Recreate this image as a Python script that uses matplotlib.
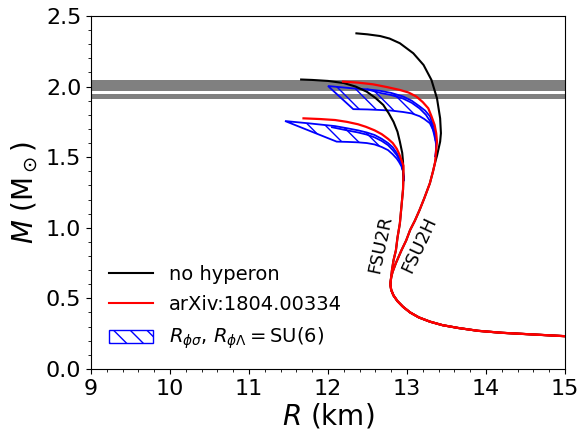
import matplotlib
matplotlib.use('Agg')
import matplotlib.pyplot as plt
from matplotlib.patches import Patch
from matplotlib.ticker import MultipleLocator

# low-mass tail shared by all sequences (R in km, M in Msun)
tail_R = [15.0, 14.6, 14.2, 13.9, 13.65, 13.45, 13.29, 13.15, 13.04, 12.95, 12.88, 12.83, 12.80, 12.79]
tail_M = [0.232, 0.244, 0.256, 0.27, 0.29, 0.31, 0.335, 0.365, 0.40, 0.44, 0.48, 0.52, 0.56, 0.60]

# FSU2R
r_low_R = [12.80, 12.81, 12.83, 12.86, 12.88, 12.91, 12.93, 12.95, 12.955]
r_low_M = [0.65, 0.70, 0.77, 0.84, 0.93, 1.03, 1.15, 1.27, 1.36]
r_nohyp_R = [12.95, 12.94, 12.91, 12.88, 12.83, 12.77, 12.70, 12.60, 12.49, 12.35, 12.2, 12.0, 11.8, 11.66]
r_nohyp_M = [1.468, 1.53, 1.61, 1.68, 1.75, 1.81, 1.87, 1.92, 1.964, 2.0, 2.025, 2.04, 2.047, 2.05]
r_arx_R = [12.955, 12.93, 12.90, 12.87, 12.82, 12.76, 12.68, 12.59, 12.48, 12.38, 12.24, 12.09, 11.9, 11.69]
r_arx_M = [1.44, 1.48, 1.525, 1.56, 1.60, 1.63, 1.663, 1.69, 1.715, 1.733, 1.75, 1.763, 1.77, 1.775]
r_up_R = [12.96, 12.95, 12.93, 12.90, 12.87, 12.82, 12.76, 12.68, 12.59, 12.49, 12.38, 12.24,
          12.09, 11.92, 11.75, 11.6, 11.456]
r_up_M = [1.33, 1.40, 1.46, 1.50, 1.53, 1.57, 1.60, 1.63, 1.657, 1.675, 1.69, 1.705,
          1.72, 1.73, 1.74, 1.748, 1.756]
r_mid_R = [12.93, 12.90, 12.87, 12.82, 12.76, 12.68, 12.59, 12.49, 12.38, 12.24, 12.05]
r_mid_M = [1.45, 1.485, 1.515, 1.55, 1.585, 1.615, 1.64, 1.66, 1.675, 1.69, 1.712]
r_lo_R = [12.96, 12.95, 12.93, 12.90, 12.87, 12.82, 12.76, 12.68, 12.59, 12.49, 12.38, 12.25, 12.11]
r_lo_M = [1.36, 1.40, 1.435, 1.465, 1.49, 1.52, 1.55, 1.572, 1.59, 1.60, 1.605, 1.608, 1.61]

# FSU2H
h_low_R = [12.80, 12.82, 12.86, 12.93, 12.99, 13.04, 13.10, 13.16, 13.22, 13.29, 13.33, 13.355]
h_low_M = [0.65, 0.69, 0.75, 0.84, 0.91, 0.984, 1.05, 1.126, 1.21, 1.315, 1.40, 1.46]
h_nohyp_R = [13.38, 13.40, 13.42, 13.43, 13.42, 13.38, 13.31, 13.21, 13.08, 12.91, 12.78, 12.66, 12.5, 12.36]
h_nohyp_M = [1.51, 1.56, 1.61, 1.67, 1.775, 1.917, 2.047, 2.153, 2.236, 2.307, 2.34, 2.358, 2.37, 2.377]
h_arx_R = [13.37, 13.38, 13.37, 13.35, 13.31, 13.27, 13.2, 13.12, 13.02, 12.91, 12.75,
           12.57, 12.38, 12.19]
h_arx_M = [1.55, 1.61, 1.67, 1.728, 1.79, 1.846, 1.89, 1.929, 1.958, 1.976, 1.996,
           2.016, 2.028, 2.035]
h_up_R = [13.36, 13.37, 13.37, 13.35, 13.29, 13.23, 13.16, 13.06, 12.95, 12.80, 12.66, 12.5,
          12.32, 12.15, 12.0]
h_up_M = [1.50, 1.55, 1.62, 1.70, 1.79, 1.83, 1.86, 1.90, 1.93, 1.955, 1.97, 1.98,
          1.987, 1.996, 2.004]
h_mid_R = [13.36, 13.31, 13.24, 13.16, 13.06, 12.95, 12.80, 12.66, 12.5]
h_mid_M = [1.62, 1.74, 1.80, 1.845, 1.885, 1.915, 1.94, 1.955, 1.98]
h_lo_R = [13.36, 13.37, 13.35, 13.29, 13.22, 13.16, 13.06, 12.95, 12.80, 12.66, 12.5, 12.32]
h_lo_M = [1.50, 1.58, 1.67, 1.74, 1.77, 1.79, 1.81, 1.82, 1.83, 1.834, 1.838, 1.84]

# observed maximum masses (J0348+0432, J1614-2230)
bands = [(1.97, 2.05), (1.911, 1.945)]

fig, ax = plt.subplots(figsize=(5.8, 4.32), dpi=100)
fig.subplots_adjust(left=0.157, right=0.974, bottom=0.146, top=0.963)

for lo, hi in bands:
    ax.axhspan(lo, hi, color='#808080', lw=0, zorder=1)

plt.rcParams['hatch.linewidth'] = 1.0
for up_R, up_M, lo_R, lo_M, mid_R, mid_M in [
        (r_up_R, r_up_M, r_lo_R, r_lo_M, r_mid_R, r_mid_M),
        (h_up_R, h_up_M, h_lo_R, h_lo_M, h_mid_R, h_mid_M)]:
    ax.fill(up_R + lo_R[::-1], up_M + lo_M[::-1], facecolor='none',
            edgecolor='blue', hatch='\\\\', lw=1.3, zorder=2)
    ax.plot(mid_R, mid_M, color='blue', lw=1.3, zorder=2)

tR = tail_R
tM = tail_M
ax.plot(tR + r_low_R + r_nohyp_R, tM + r_low_M + r_nohyp_M, color='black', lw=1.5, zorder=3)
ax.plot(tR + h_low_R + h_nohyp_R, tM + h_low_M + h_nohyp_M, color='black', lw=1.5, zorder=3)
ax.plot(tR + r_low_R + r_arx_R, tM + r_low_M + r_arx_M, color='red', lw=1.6, zorder=4)
ax.plot(tR + h_low_R + h_arx_R, tM + h_low_M + h_arx_M, color='red', lw=1.6, zorder=4)

ax.text(12.67, 0.88, 'FSU2R', rotation=78, fontsize=13, ha='center', va='center')
ax.text(13.15, 0.88, 'FSU2H', rotation=65, fontsize=13, ha='center', va='center')

ax.set_xlim(9, 15)
ax.set_ylim(0, 2.5)
ax.xaxis.set_major_locator(MultipleLocator(1))
ax.xaxis.set_minor_locator(MultipleLocator(0.2))
ax.yaxis.set_major_locator(MultipleLocator(0.5))
ax.yaxis.set_minor_locator(MultipleLocator(0.1))
ax.tick_params(labelsize=16)
ax.set_xlabel(r'$R$ (km)', fontsize=20, labelpad=2)
ax.set_ylabel(r'$M$ (M$_\odot$)', fontsize=20, labelpad=4)

handles = [plt.Line2D([], [], color='black', lw=1.5),
           plt.Line2D([], [], color='red', lw=1.5),
           Patch(facecolor='none', edgecolor='blue', hatch='\\\\')]
labels = ['no hyperon', 'arXiv:1804.00334',
          r'$R_{\phi\sigma}$, $R_{\phi\Lambda} = \mathrm{SU(6)}$']
ax.legend(handles, labels, loc='lower left', frameon=False, fontsize=14,
          handlelength=2.3, labelspacing=0.6)

fig.savefig('out.png', dpi=100)
